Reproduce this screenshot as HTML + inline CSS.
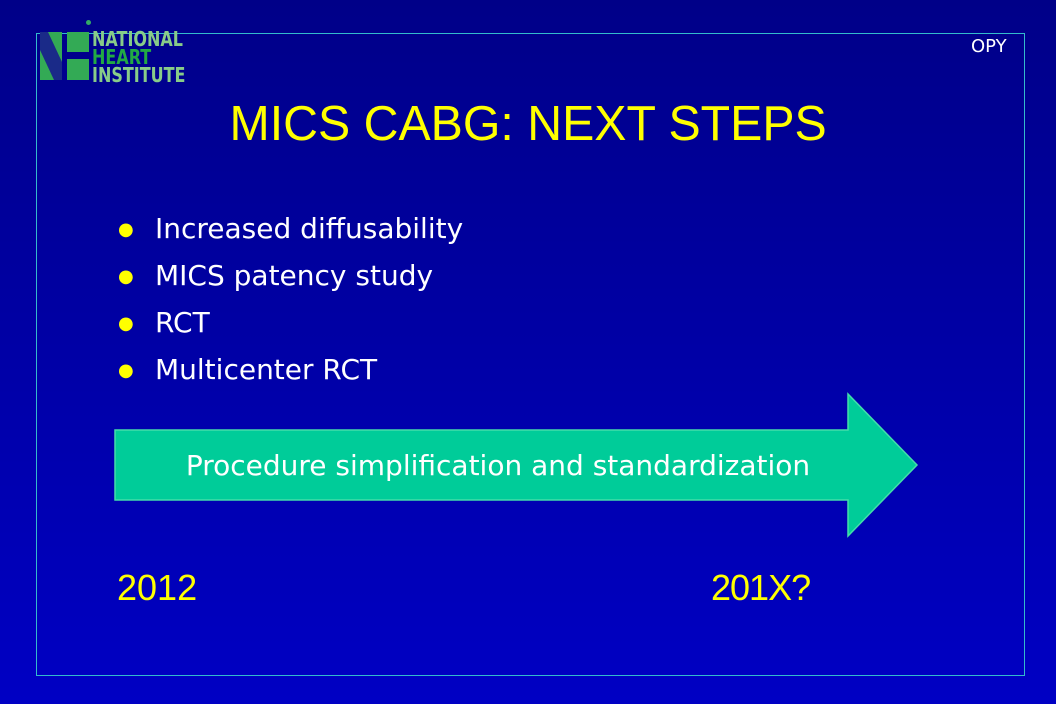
<!DOCTYPE html>
<html><head><style>
body{margin:0;width:1056px;height:704px;overflow:hidden;background:linear-gradient(#000088,#0000c4);font-family:"Liberation Sans","DejaVu Sans",sans-serif;position:relative}
.a{position:absolute}
.dj{font-family:"DejaVu Sans",sans-serif}
</style></head><body>
<div class="a" style="left:36px;top:33px;width:987px;height:641px;border:1px solid #33bbcc"></div>
<div class="a" style="left:40px;top:20px;width:150px;height:65px">
 <div class="a" style="left:46px;top:0;width:5px;height:5px;border-radius:50%;background:#33aa66"></div>
 <svg class="a" style="left:0;top:12px" width="50" height="48"><rect x="0" y="0" width="22" height="48" fill="#33aa55"/><polygon points="0,0 8,0 22,30 22,48 14,48 0,18" fill="#1a2a88"/><rect x="27" y="0" width="22" height="20" fill="#33aa55"/><rect x="27" y="27" width="22" height="21" fill="#33aa55"/></svg>
 <div class="a dj" style="left:52px;top:10px;font-size:20px;line-height:18px;font-weight:bold;color:#88cc88;transform:scaleX(0.8);transform-origin:left;white-space:nowrap">NATIONAL<br><span style="color:#22aa44">HEART</span><br>INSTITUTE</div>
</div>
<div class="a dj" style="left:971px;top:36px;color:#fff;font-size:18px">OPY</div>
<div class="a" style="left:0;width:1056px;top:96px;text-align:center;color:#ffff00;font-size:49px"><span style="display:inline-block;transform:scaleX(0.985)">MICS CABG: NEXT STEPS</span></div>
<div class="a dj" style="left:118px;top:206px;color:#fff;font-size:28px;line-height:46px">
 <div><span style="color:#ffff00;font-size:18px;display:inline-block;width:37px;vertical-align:3px">●</span>Increased diffusability</div>
 <div><span style="color:#ffff00;font-size:18px;display:inline-block;width:37px;vertical-align:3px">●</span>MICS patency study</div>
 <div><span style="color:#ffff00;font-size:18px;display:inline-block;width:37px;vertical-align:3px">●</span>RCT</div>
 <div><span style="color:#ffff00;font-size:18px;display:inline-block;width:37px;vertical-align:3px">●</span>Multicenter RCT</div>
</div>
<svg class="a" style="left:0;top:0" width="1056" height="704"><polygon points="115,430 848,430 848,394 917,465 848,536 848,500 115,500" fill="#00cc99" stroke="#44ddaa" stroke-width="1.5"/></svg>
<div class="a dj" style="left:115px;width:766px;top:449px;text-align:center;color:#fff;font-size:28px;white-space:nowrap">Procedure simplification and standardization</div>
<div class="a" style="left:117px;top:567px;color:#ffff00;font-size:36px">2012</div>
<div class="a" style="left:711px;top:567px;color:#ffff00;font-size:36px;letter-spacing:-1px">201X?</div>
</body></html>
